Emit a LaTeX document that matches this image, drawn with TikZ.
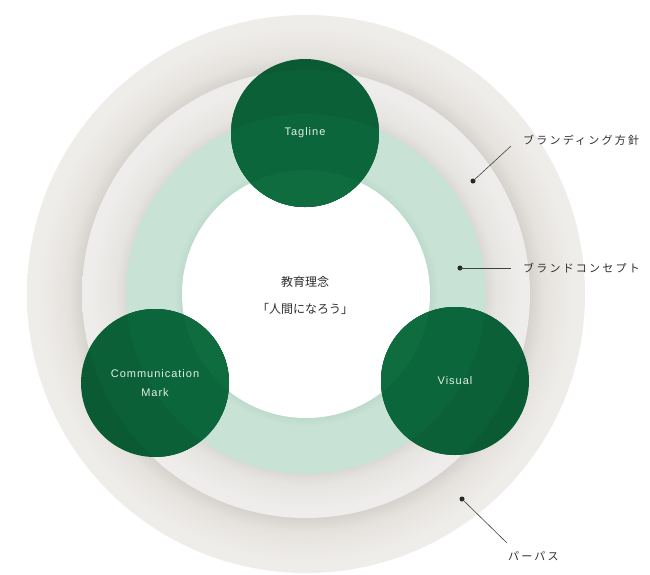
\documentclass[tikz,border=0pt]{standalone}
\usepackage{fontspec}
\setmainfont{Liberation Sans}
\newfontfamily\jpfont{Noto Sans CJK JP}
\newfontfamily\latfont[LetterSpace=9]{Liberation Sans}
\newfontfamily\jplabel[LetterSpace=20]{Noto Sans CJK JP}
\definecolor{ringAdark}{HTML}{D6D2CD}
\definecolor{ringAmid}{HTML}{E5E2DE}
\definecolor{ringAlight}{HTML}{EFEDEA}
\definecolor{ringBdark}{HTML}{DCD9D5}
\definecolor{ringBmid}{HTML}{E7E5E2}
\definecolor{ringBlight}{HTML}{EEEDEB}
\definecolor{ringCdark}{HTML}{BCDACB}
\definecolor{ringClight}{HTML}{C8E2D6}
\definecolor{gA}{HTML}{0A5A34}
\definecolor{gB}{HTML}{0B6038}
\definecolor{gC}{HTML}{0C663B}
\definecolor{gD}{HTML}{0E6C3F}
\definecolor{balltext}{HTML}{E2EFE6}
\definecolor{labelgray}{HTML}{2E2E2E}
\pgfdeclareradialshading{shA}{\pgfpoint{0bp}{0bp}}{color(0bp)=(ringAdark); color(20.07bp)=(ringAdark); color(21.3bp)=(ringAmid); color(24bp)=(ringAlight); color(50bp)=(ringAlight)}
\pgfdeclareradialshading{shB}{\pgfpoint{0bp}{0bp}}{color(0bp)=(ringBdark); color(20.09bp)=(ringBdark); color(21.3bp)=(ringBmid); color(24bp)=(ringBlight); color(50bp)=(ringBlight)}
\pgfdeclareradialshading{shC}{\pgfpoint{0bp}{0bp}}{color(0bp)=(ringCdark); color(17.2bp)=(ringCdark); color(18.3bp)=(ringClight); color(25bp)=(ringClight); color(50bp)=(ringClight)}
\begin{document}
\begin{tikzpicture}[x=1pt,y=-1pt,
  greenball/.style={circle, minimum size=148pt, inner sep=0pt, fill=gA,
    path picture={\fill[gB] (ctr) circle[radius=224pt];
                  \fill[gC] (ctr) circle[radius=180pt];
                  \fill[gD] (ctr) circle[radius=124pt];},
    text=balltext, font=\latfont\fontsize{11}{19}\selectfont, align=center},
  labeltext/.style={anchor=west, inner sep=0pt, text=labelgray,
    font=\jplabel\fontsize{11}{12}\selectfont},
  dotmark/.style={circle, fill=black!85, minimum size=5pt, inner sep=0pt},
  leader/.style={draw=black!75, line width=0.6pt}]
\useasboundingbox (0,0) rectangle (650,574);
\fill[white] (0,0) rectangle (650,574);
\coordinate (ctr) at (306,294);
% rings
\shade[shading=shA] (ctr) circle[radius=279pt];
\shade[shading=shB] (ctr) circle[radius=224pt];
\shade[shading=shC] (ctr) circle[radius=180pt];
\fill[white] (ctr) circle[radius=124pt];
% centre text
\node[align=center, text=labelgray, font=\jpfont\fontsize{12}{27}\selectfont] (core) at (305,295.5) {教育理念\\「人間になろう」};
% green circles
\node[greenball] (tag) at (305,133) {Tagline};
\node[greenball] (comm) at (155,383) {Communication\\Mark};
\node[greenball] (vis) at (455,381) {Visual};
% labels
\node[dotmark] (d1) at (473,181) {};
\coordinate (e1) at (511,146);
\node[labeltext] (l1) at (523,140) {ブランディング方針};
\draw[leader] (d1.center) -- (e1);
\node[dotmark] (d2) at (460,268) {};
\coordinate (e2) at (511,268);
\node[labeltext] (l2) at (523,268) {ブランドコンセプト};
\draw[leader] (d2.center) -- (e2);
\node[dotmark] (d3) at (462,499) {};
\coordinate (e3) at (507,543);
\node[labeltext] (l3) at (508,556) {パーパス};
\draw[leader] (d3.center) -- (e3);
\end{tikzpicture}
\end{document}
